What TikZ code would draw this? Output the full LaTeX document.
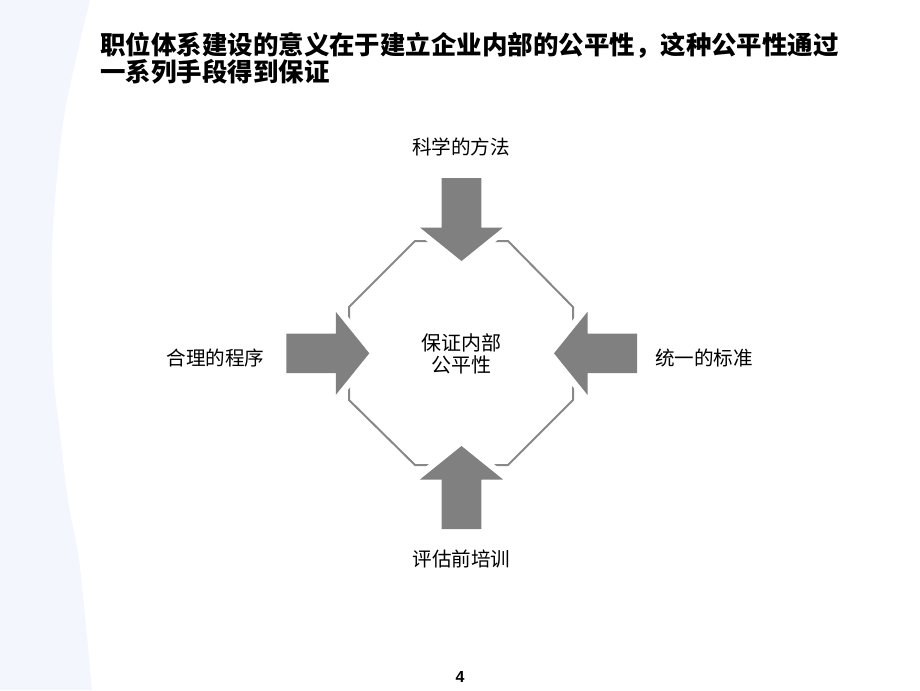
\documentclass[tikz,border=0pt]{standalone}
\usepackage{fontspec}
\setmainfont{Noto Sans CJK SC}
\newfontfamily\numfont{Liberation Sans}
\definecolor{arrowgray}{RGB}{128,128,128}
\definecolor{linegray}{RGB}{136,136,136}
\definecolor{stripblue}{RGB}{244,246,253}
\tikzset{
  px/.style={x=0.75pt,y=-0.75pt},
  titletext/.style={anchor=west,inner sep=0pt,font=\fontsize{19.1}{22}\selectfont\bfseries},
  labeltext/.style={inner sep=0pt,font=\fontsize{14.7}{17}\selectfont},
  centertext/.style={inner sep=0pt,align=center,font=\fontsize{15}{16.5}\selectfont},
  octline/.style={draw=linegray,line width=1.5pt,line join=round},
  bigarrow/.style={fill=arrowgray,preaction={draw=white,line width=9.5pt,line join=miter}},
}
\begin{document}
\begin{tikzpicture}[px]
\useasboundingbox (0,0) rectangle (920,690);
% left decorative strip
\fill[stripblue] (0,0) -- plot[smooth] coordinates {(90,0) (67,100) (58,167) (52,250) (53,367) (60,433) (68,500) (80,567) (92,690)} -- (0,690) -- cycle;
% title
\node[titletext] (t1) at (100,45) {职位体系建设的意义在于建立企业内部的公平性，这种公平性通过};
\node[titletext] (t2) at (100,72) {一系列手段得到保证};
% octagon
\draw[octline] (415,241) -- (508,241) -- (573,307) -- (573,400) -- (508,465) -- (415,465) -- (349,400) -- (349,307) -- cycle;
% arrows (tip at origin, pointing +x)
\foreach \px/\py/\ang in {369.3/353.3/0, 554/353.3/180, 461.5/261/-90, 461.5/446/90}{
  \begin{scope}[shift={(\px,\py)},rotate=\ang]
    \path[bigarrow] (0,0) -- (-33.5,-41.5) -- (-33.5,-19.8) -- (-83,-19.8) -- (-83,19.8) -- (-33.5,19.8) -- (-33.5,41.5) -- cycle;
  \end{scope}
}
% labels
\node[labeltext] (top) at (461,147) {科学的方法};
\node[labeltext] (left) at (215.5,358) {合理的程序};
\node[labeltext] (right) at (704,358) {统一的标准};
\node[labeltext] (bottom) at (461.5,559) {评估前培训};
\node[centertext] (center) at (461,354) {保证内部\\公平性};
\node[inner sep=0pt,font=\numfont\bfseries\fontsize{12}{14}\selectfont] (page) at (460,677) {4};
\end{tikzpicture}
\end{document}
